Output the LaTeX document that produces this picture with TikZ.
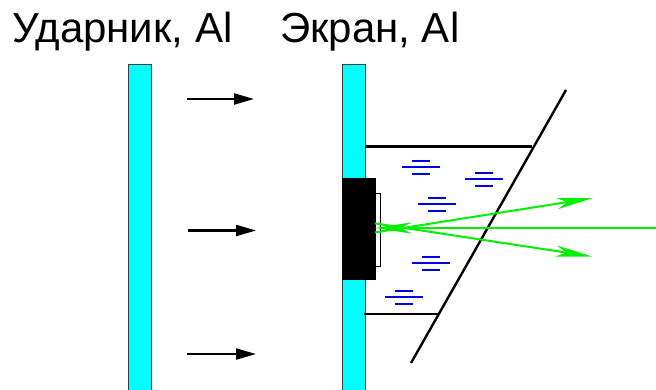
\documentclass[tikz,border=0pt]{standalone}
\usepackage{fontspec}
\setmainfont{Liberation Sans}
\usetikzlibrary{arrows.meta}
\definecolor{barcyan}{RGB}{0,255,255}
\definecolor{bargray}{RGB}{60,60,60}
\definecolor{rayg}{RGB}{0,240,0}
\definecolor{chargeb}{RGB}{0,0,230}
\begin{document}
\begin{tikzpicture}[x=1pt,y=-1pt,
  plate/.style={fill=barcyan,draw=bargray,line width=1.2pt},
  impact/.style={line width=2.2pt,-{Triangle[length=20pt,width=11pt]}},
  wall/.style={line width=2.4pt},
  ray/.style={draw=rayg,line width=2pt,-{Stealth[length=36pt,width=11pt,inset=10pt]}},
  label/.style={font=\fontsize{42}{48}\selectfont,anchor=base west,inner sep=0pt},
  charge/.pic={
    \draw[chargeb,line width=2pt] (-9,-6) -- (9,-6) (-19,0) -- (19,0) (-9,7) -- (9,7);
  }]
\useasboundingbox (0,0) rectangle (656,389);

% titles
\node[label] (tstriker) at (12,42.5) {Ударник, Al};
\node[label] (tscreen) at (280,42.5) {Экран, Al};

% striker plate and screen plate
\draw[plate] (128.5,395) rectangle (151.5,64.5);
\draw[plate] (342.5,395) rectangle (365.5,64.5);

% impact direction
\coordinate (a1s) at (187,99);  \coordinate (a1e) at (254,99);
\coordinate (a2s) at (188,230.5); \coordinate (a2e) at (256,230.5);
\coordinate (a3s) at (187,354); \coordinate (a3e) at (256,354);
\draw[impact] (a1s) -- (a1e);
\draw[impact] (a2s) -- (a2e);
\draw[impact] (a3s) -- (a3e);

% cell walls and window
\coordinate (wtop) at (566,90);
\coordinate (wbot) at (411,363);
\draw[wall] (wtop) -- (wbot);
\draw[line width=2.2pt] (365,146.5) -- (531.5,146.5);
\draw[line width=2.2pt] (364,314) -- (438.5,314);

% sample on the screen
\node[fill=black,draw=black,minimum width=33pt,minimum height=101pt,inner sep=0pt,anchor=north west] (sample) at (342,178) {};
\node[fill=white,draw=black,line width=0.8pt,minimum width=5pt,minimum height=73pt,inner sep=0pt,anchor=north west] (window) at (375,192.5) {};

% liquid
\pic at (421,166.5) {charge};
\pic at (483.5,178.5) {charge};
\pic at (437,204) {charge};
\pic at (430.5,263) {charge};
\pic at (403.5,297) {charge};

% probe beams
\coordinate (src) at (656,228);
\coordinate (up) at (593,198);
\coordinate (dn) at (592,256.5);
\draw[ray] (src) -- (window.west |- src);
\draw[ray] ([yshift=-3pt]window.west) -- (up);
\draw[ray] ([yshift=6pt]window.west) -- (dn);
\end{tikzpicture}
\end{document}
